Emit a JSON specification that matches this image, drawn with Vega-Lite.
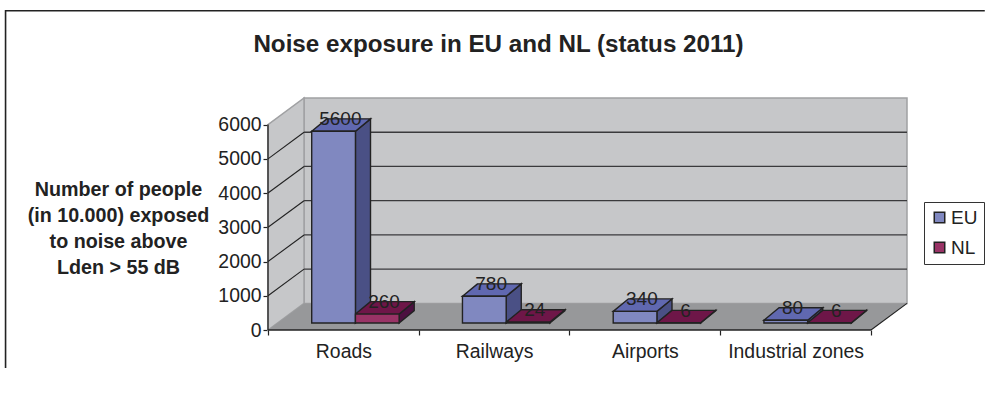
{
  "$schema": "https://vega.github.io/schema/vega-lite/v6.json",
  "width": 639,
  "height": 232,
  "autosize": {"type": "none"},
  "padding": {"left": 268, "top": 98, "right": 78, "bottom": 64},
  "background": "white",
  "config": {
    "view": {"stroke": null},
    "font": "Liberation Sans",
    "text": {"font": "Liberation Sans"}
  },
  "title": {
    "text": "Noise exposure in EU and NL (status 2011)",
    "font": "Liberation Sans",
    "fontSize": 24.2,
    "fontWeight": "bold",
    "color": "#222222",
    "anchor": "middle",
    "dx": -89,
    "offset": -50
  },
  "datasets": {
    "bars": [
      {"category": "Roads", "slot": 0, "series": "EU", "value": 5600},
      {"category": "Roads", "slot": 0, "series": "NL", "value": 260},
      {"category": "Railways", "slot": 1, "series": "EU", "value": 780},
      {"category": "Railways", "slot": 1, "series": "NL", "value": 24},
      {"category": "Airports", "slot": 2, "series": "EU", "value": 340},
      {"category": "Airports", "slot": 2, "series": "NL", "value": 6},
      {"category": "Industrial zones", "slot": 3, "series": "EU", "value": 80},
      {"category": "Industrial zones", "slot": 3, "series": "NL", "value": 6}
    ],
    "levels": [
      {"level": 1000}, {"level": 2000}, {"level": 3000},
      {"level": 4000}, {"level": 5000}
    ],
    "box": [{"span": 4, "top": 6000}],
    "border": [
      {"i": 0, "bx": 4.755, "by": 9327},
      {"i": 1, "bx": -1.741, "by": 9327},
      {"i": 2, "bx": -1.741, "by": -1111}
    ]
  },
  "encoding": {
    "x": {
      "field": "px", "type": "quantitative", "title": null,
      "scale": {"domain": [0, 4.239], "nice": false, "zero": false},
      "axis": {
        "values": [0, 0.5, 1, 1.5, 2, 2.5, 3, 3.5, 4],
        "grid": false, "domain": false,
        "tickColor": "#222222", "tickSize": 5, "tickWidth": 1.2,
        "tickOpacity": {"condition": {"test": "datum.value % 1 === 0", "value": 1}, "value": 0},
        "labelExpr": "datum.value % 1 === 0 ? '' : ['Roads', 'Railways', 'Airports', 'Industrial zones'][floor(datum.value)]",
        "labelFont": "Liberation Sans", "labelFontSize": 19.4, "labelColor": "#222222",
        "labelPadding": 7, "labelOverlap": false, "labelFlush": false
      }
    },
    "y": {
      "field": "py", "type": "quantitative",
      "title": ["Number of people", "(in 10.000) exposed", "to noise above", "Lden > 55 dB"],
      "scale": {"domain": [0, 6777], "nice": false, "zero": false},
      "axis": {
        "values": [0, 1000, 2000, 3000, 4000, 5000, 6000],
        "grid": false, "domain": false, "format": "d",
        "tickColor": "#222222", "tickSize": 5, "tickWidth": 1.2,
        "labelFont": "Liberation Sans", "labelFontSize": 19.4, "labelColor": "#222222",
        "labelPadding": 2, "labelOverlap": false,
        "titleFont": "Liberation Sans", "titleFontSize": 19.7, "titleFontWeight": "bold", "titleColor": "#222222",
        "titleAngle": 0, "titleAlign": "center", "titleBaseline": "middle",
        "titleX": -150, "titleY": 91, "titleLineHeight": 26
      }
    }
  },
  "layer": [
    {
      "description": "Outer chart border",
      "data": {"name": "border"},
      "transform": [{"calculate": "datum.bx", "as": "px"}, {"calculate": "datum.by", "as": "py"}],
      "mark": {"type": "line", "stroke": "#222222", "strokeWidth": 1.6, "clip": false},
      "encoding": {"order": {"field": "i"}}
    },
    {
      "description": "Back wall",
      "data": {"name": "box"},
      "transform": [
        {"calculate": "0.239", "as": "px"}, {"calculate": "datum.span + 0.239", "as": "px2"},
        {"calculate": "777", "as": "py"}, {"calculate": "datum.top + 777", "as": "py2"}
      ],
      "mark": {"type": "rect", "fill": "#C6C7C9", "stroke": "#A0A1A3", "strokeWidth": 1.5},
      "encoding": {"x2": {"field": "px2"}, "y2": {"field": "py2"}}
    },
    {
      "description": "Left side wall",
      "data": {"name": "box"},
      "transform": [
        {"calculate": "[0, 1]", "as": "edge"}, {"flatten": ["edge"]},
        {"calculate": "datum.edge * 0.239", "as": "px"},
        {"calculate": "datum.edge * 777", "as": "py"},
        {"calculate": "datum.top + datum.edge * 777", "as": "py2"}
      ],
      "mark": {"type": "area", "orient": "vertical", "fill": "#C6C7C9", "stroke": "#A0A1A3", "strokeWidth": 1.5},
      "encoding": {"y2": {"field": "py2"}}
    },
    {
      "description": "Floor",
      "data": {"name": "box"},
      "transform": [
        {"calculate": "[0, 1]", "as": "edge"}, {"flatten": ["edge"]},
        {"calculate": "datum.edge * 0.239", "as": "px"},
        {"calculate": "datum.span + datum.edge * 0.239", "as": "px2"},
        {"calculate": "datum.edge * 777", "as": "py"}
      ],
      "mark": {"type": "area", "orient": "horizontal", "fill": "#97989A"},
      "encoding": {"x2": {"field": "px2"}}
    },
    {
      "description": "Gridlines across the back wall",
      "data": {"name": "levels"},
      "transform": [
        {"calculate": "0.239", "as": "px"}, {"calculate": "4.239", "as": "px2"},
        {"calculate": "datum.level + 777", "as": "py"}
      ],
      "mark": {"type": "rule", "stroke": "#3A3A3C", "strokeWidth": 1.3},
      "encoding": {"x2": {"field": "px2"}}
    },
    {
      "description": "Gridlines running back along the side wall",
      "data": {"name": "levels"},
      "transform": [
        {"calculate": "[0, 1]", "as": "edge"}, {"flatten": ["edge"]},
        {"calculate": "datum.edge * 0.239", "as": "px"},
        {"calculate": "datum.level + datum.edge * 777", "as": "py"}
      ],
      "mark": {"type": "line", "stroke": "#222222", "strokeWidth": 1.1},
      "encoding": {"detail": {"field": "level"}}
    },
    {
      "description": "Diagonal floor edge on the right",
      "data": {"name": "box"},
      "transform": [
        {"calculate": "[0, 1]", "as": "edge"}, {"flatten": ["edge"]},
        {"calculate": "datum.span + datum.edge * 0.239", "as": "px"},
        {"calculate": "datum.edge * 777", "as": "py"}
      ],
      "mark": {"type": "line", "stroke": "#222222", "strokeWidth": 1.1},
      "encoding": {}
    },
    {
      "description": "Front edge of the category axis",
      "data": {"name": "box"},
      "transform": [
        {"calculate": "0", "as": "px"}, {"calculate": "0", "as": "py"},
        {"calculate": "datum.span", "as": "px2"}
      ],
      "mark": {"type": "rule", "stroke": "#222222", "strokeWidth": 1.3},
      "encoding": {"x2": {"field": "px2"}}
    },
    {
      "description": "Front edge of the value axis",
      "data": {"name": "box"},
      "transform": [
        {"calculate": "0", "as": "px"}, {"calculate": "0", "as": "py"},
        {"calculate": "datum.top", "as": "py2"}
      ],
      "mark": {"type": "rule", "stroke": "#222222", "strokeWidth": 1.3},
      "encoding": {"y2": {"field": "py2"}}
    },
    {
      "description": "Right-hand faces of the columns",
      "data": {"name": "bars"},
      "transform": [
        {"calculate": "datum.slot + 0.29 + (datum.series === 'NL' ? 0.29 : 0)", "as": "left"},
        {"calculate": "[0, 1]", "as": "edge"}, {"flatten": ["edge"]},
        {"calculate": "datum.left + 0.29 + datum.edge * 0.1", "as": "px"},
        {"calculate": "205 + datum.edge * 363", "as": "py"},
        {"calculate": "205 + datum.value + datum.edge * 363", "as": "py2"}
      ],
      "mark": {"type": "area", "orient": "vertical", "stroke": "#222222", "strokeWidth": 1.4},
      "encoding": {
        "y2": {"field": "py2"},
        "detail": {"field": "category"},
        "fill": {"field": "series", "type": "nominal", "scale": {"range": ["#4A5085", "#4C1040"]}, "legend": null}
      }
    },
    {
      "description": "Top faces of the columns",
      "data": {"name": "bars"},
      "transform": [
        {"calculate": "datum.slot + 0.29 + (datum.series === 'NL' ? 0.29 : 0)", "as": "left"},
        {"calculate": "[0, 1]", "as": "edge"}, {"flatten": ["edge"]},
        {"calculate": "datum.left + datum.edge * 0.1", "as": "px"},
        {"calculate": "datum.left + 0.29 + datum.edge * 0.1", "as": "px2"},
        {"calculate": "205 + datum.value + datum.edge * 363", "as": "py"}
      ],
      "mark": {"type": "area", "orient": "horizontal", "stroke": "#222222", "strokeWidth": 1.4},
      "encoding": {
        "x2": {"field": "px2"},
        "detail": {"field": "category"},
        "fill": {"field": "series", "type": "nominal", "scale": {"range": ["#6068B0", "#6E1648"]}, "legend": null}
      }
    },
    {
      "description": "Front faces of the columns",
      "data": {"name": "bars"},
      "transform": [
        {"calculate": "datum.slot + 0.29 + (datum.series === 'NL' ? 0.29 : 0)", "as": "px"},
        {"calculate": "datum.px + 0.29", "as": "px2"},
        {"calculate": "205", "as": "py"},
        {"calculate": "205 + datum.value", "as": "py2"}
      ],
      "mark": {"type": "rect", "stroke": "#222222", "strokeWidth": 1.4},
      "encoding": {
        "x2": {"field": "px2"},
        "y2": {"field": "py2"},
        "fill": {
          "field": "series", "type": "nominal",
          "scale": {"range": ["#8088C0", "#993366"]},
          "legend": {
            "title": null, "orient": "none", "legendX": 656, "legendY": 104,
            "symbolType": "square", "symbolSize": 110, "symbolStrokeColor": "#222222", "symbolStrokeWidth": 1.5,
            "labelFont": "Liberation Sans", "labelFontSize": 19, "labelColor": "#222222",
            "strokeColor": "#333333", "fillColor": "white", "padding": 6, "rowPadding": 10, "labelOffset": 2
          }
        }
      }
    },
    {
      "description": "Value labels above the columns",
      "data": {"name": "bars"},
      "transform": [
        {"calculate": "datum.slot + 0.29 + (datum.series === 'NL' ? 0.29 : 0) + 0.145 + 0.045", "as": "px"},
        {"calculate": "205 + datum.value + 181", "as": "py"}
      ],
      "mark": {"type": "text", "font": "Liberation Sans", "fontSize": 19, "color": "#222222", "baseline": "alphabetic", "dy": 0},
      "encoding": {"text": {"field": "value", "type": "quantitative", "format": "d"}}
    }
  ],
  "resolve": {"scale": {"fill": "independent"}}
}
